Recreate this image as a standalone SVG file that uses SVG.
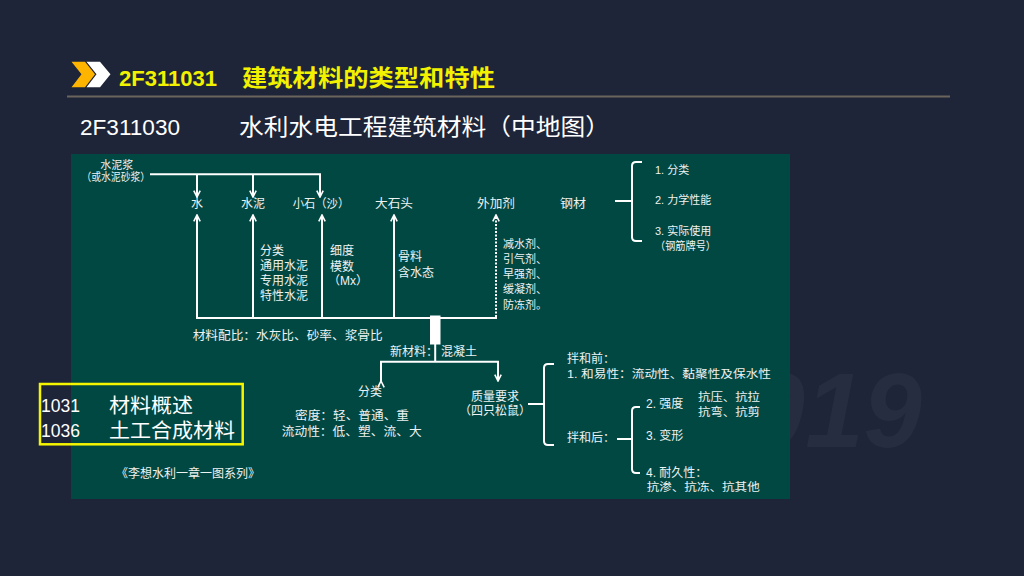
<svg xmlns="http://www.w3.org/2000/svg" width="1024" height="576" viewBox="0 0 1024 576">
<defs>
<style>
.t{font-family:"Liberation Sans","Noto Sans CJK SC",sans-serif;font-size:12px;fill:#eef3f2}
.s{font-size:11px}
.ln{stroke:#ffffff;stroke-width:2;fill:none}
.dot{stroke:#ffffff;stroke-width:2;fill:none;stroke-dasharray:2 1.5}
.br{stroke:#ffffff;stroke-width:2;fill:none;stroke-linejoin:round}
.hd{font-family:"Liberation Sans","Noto Sans CJK SC",sans-serif}
</style>
<marker id="ah" viewBox="0 0 10 10" refX="9" refY="5" markerWidth="8" markerHeight="8" markerUnits="userSpaceOnUse" orient="auto">
<path d="M1,1 L9,5 L1,9" stroke="#ffffff" stroke-width="2" fill="none"/>
</marker>
<clipPath id="wm"><rect x="790" y="300" width="234" height="200"/></clipPath>
</defs>
<rect width="1024" height="576" fill="#1e2538"/>
<g clip-path="url(#wm)">
<text x="922" y="447" text-anchor="end" font-family="Liberation Sans, sans-serif" font-style="italic" font-weight="bold" font-size="105" fill="#262d41">2019</text>
</g>

<g id="header">
<polygon points="71.5,61.7 85,61.7 95,74.3 85,87.3 71.5,87.3 81.5,74.3" fill="#ffb400"/>
<polygon points="86.5,61.7 100,61.7 110.5,74.3 100,87.3 86.5,87.3 96.5,74.3" fill="#ffffff"/>
<text class="hd" x="119" y="86" font-size="22" font-weight="bold" fill="#f2f200" textLength="98" lengthAdjust="spacingAndGlyphs">2F311031</text>
<text class="hd" x="242" y="86" font-size="23" font-weight="bold" fill="#f2f200" textLength="253" lengthAdjust="spacingAndGlyphs">建筑材料的类型和特性</text>
<line x1="67" y1="96.5" x2="950" y2="96.5" stroke="#6a655c" stroke-width="2"/>
<text class="hd" x="80" y="134.5" font-size="22" fill="#ffffff" textLength="100" lengthAdjust="spacingAndGlyphs">2F311030</text>
<text class="hd" x="239" y="134.5" font-size="23" fill="#ffffff" textLength="371" lengthAdjust="spacingAndGlyphs">水利水电工程建筑材料（中地图）</text>
</g>

<rect id="panel" x="71" y="154" width="719" height="345" fill="#014843"/>

<g id="connectors">
<polyline class="ln" points="150,174.3 320,174.3 320,197" marker-end="url(#ah)"/>
<line class="ln" x1="197" y1="174.3" x2="197" y2="197" marker-end="url(#ah)"/>
<line class="ln" x1="253" y1="174.3" x2="253" y2="197" marker-end="url(#ah)"/>
<line class="ln" x1="196" y1="318" x2="497" y2="318"/>
<line class="ln" x1="197" y1="318" x2="197" y2="215" marker-end="url(#ah)"/>
<line class="ln" x1="253" y1="318" x2="253" y2="215" marker-end="url(#ah)"/>
<line class="ln" x1="322" y1="318" x2="322" y2="215" marker-end="url(#ah)"/>
<line class="ln" x1="394" y1="318" x2="394" y2="215" marker-end="url(#ah)"/>
<line class="dot" x1="496" y1="317" x2="496" y2="215" marker-end="url(#ah)"/>
<rect x="430" y="315.5" width="10.5" height="29" fill="#ffffff"/>
<line class="ln" x1="435.2" y1="344" x2="435.2" y2="361.7"/>
<polyline class="ln" points="381,381 381,361.7 498,361.7 498,381" marker-start="url(#ah)" marker-end="url(#ah)"/>
<line class="ln" x1="615" y1="201" x2="632" y2="201"/>
<path class="br" d="M642,162 L636,162 Q632,162 632,166 L632,237 Q632,241 636,241 L642,241"/>
<line class="ln" x1="528" y1="404" x2="544" y2="404"/>
<path class="br" d="M554,364 L548,364 Q544,364 544,368 L544,441 Q544,445 548,445 L554,445"/>
<line class="ln" x1="617" y1="439" x2="632" y2="439"/>
<path class="br" d="M640,407 L636,407 Q632,407 632,411 L632,469 Q632,473 636,473 L640,473"/>
</g>

<g id="n-slurry">
<text class="t s" x="116.7" y="168.5" text-anchor="middle">水泥浆</text>
<text class="t s" x="81.5" y="180.5" textLength="68.5" lengthAdjust="spacingAndGlyphs">（或水泥砂浆）</text>
</g>
<g id="n-water"><text class="t" x="197" y="208" text-anchor="middle">水</text></g>
<g id="n-cement"><text class="t" x="253" y="208" text-anchor="middle">水泥</text></g>
<g id="n-sand"><text class="t" x="292.7" y="208" textLength="56.5" lengthAdjust="spacingAndGlyphs">小石（沙）</text></g>
<g id="n-stone"><text class="t" x="375" y="208" textLength="38" lengthAdjust="spacingAndGlyphs">大石头</text></g>
<g id="n-admix"><text class="t" x="477" y="208" textLength="38" lengthAdjust="spacingAndGlyphs">外加剂</text></g>
<g id="n-steel"><text class="t" x="560" y="208" textLength="26" lengthAdjust="spacingAndGlyphs">钢材</text></g>

<g id="n-cement-notes">
<text class="t" x="260" y="254.5">分类</text>
<text class="t" x="260" y="269.5">通用水泥</text>
<text class="t" x="260" y="284.5">专用水泥</text>
<text class="t" x="260" y="299.5">特性水泥</text>
</g>
<g id="n-sand-notes">
<text class="t" x="330" y="254.5">细度</text>
<text class="t" x="330" y="270.5">模数</text>
<text class="t" x="328" y="285">（Mx）</text>
</g>
<g id="n-stone-notes">
<text class="t" x="398" y="261">骨料</text>
<text class="t" x="398" y="277">含水态</text>
</g>
<g id="n-admix-notes">
<text class="t s" x="503" y="248">减水剂、</text>
<text class="t s" x="503" y="263">引气剂、</text>
<text class="t s" x="503" y="278">早强剂、</text>
<text class="t s" x="503" y="293">缓凝剂、</text>
<text class="t s" x="503" y="308.5">防冻剂。</text>
</g>
<g id="n-steel-notes">
<text class="t s" x="655" y="173.5">1. 分类</text>
<text class="t s" x="655" y="204">2. 力学性能</text>
<text class="t s" x="655" y="234.5">3. 实际使用</text>
<text class="t s" x="655" y="249.5" textLength="61" lengthAdjust="spacingAndGlyphs">（钢筋牌号）</text>
</g>
<g id="n-ratio"><text class="t" x="192.7" y="339.5" textLength="190" lengthAdjust="spacingAndGlyphs">材料配比：水灰比、砂率、浆骨比</text></g>
<g id="n-concrete">
<text class="t" x="390" y="356">新材料：</text>
<text class="t" x="441" y="356">混凝土</text>
</g>
<g id="n-class">
<text class="t" x="370" y="396" text-anchor="middle">分类</text>
<text class="t" x="295" y="419.5" textLength="114" lengthAdjust="spacingAndGlyphs">密度：轻、普通、重</text>
<text class="t" x="281.7" y="436" textLength="140" lengthAdjust="spacingAndGlyphs">流动性：低、塑、流、大</text>
</g>
<g id="n-quality">
<text class="t" x="495" y="400.5" text-anchor="middle">质量要求</text>
<text class="t" x="495" y="414.5" text-anchor="middle">（四只松鼠）</text>
</g>
<g id="n-before">
<text class="t" x="567" y="363">拌和前：</text>
<text class="t s" x="567" y="378" textLength="204" lengthAdjust="spacingAndGlyphs">1. 和易性：流动性、黏聚性及保水性</text>
</g>
<g id="n-after"><text class="t" x="567" y="442">拌和后：</text></g>
<g id="n-strength">
<text class="t" x="646" y="408">2. 强度</text>
<text class="t s" x="698" y="400.5" textLength="62" lengthAdjust="spacingAndGlyphs">抗压、抗拉</text>
<text class="t s" x="698" y="415.5" textLength="62" lengthAdjust="spacingAndGlyphs">抗弯、抗剪</text>
</g>
<g id="n-deform"><text class="t" x="646" y="439.5">3. 变形</text></g>
<g id="n-durable">
<text class="t" x="646" y="476.5">4. 耐久性：</text>
<text class="t s" x="646.7" y="491" textLength="113" lengthAdjust="spacingAndGlyphs">抗渗、抗冻、抗其他</text>
</g>

<g id="n-series"><text class="t" x="116" y="478" textLength="144" lengthAdjust="spacingAndGlyphs">《李想水利一章一图系列》</text></g>

<g id="n-legend">
<rect x="40" y="384" width="202.7" height="60.3" fill="none" stroke="#f5f500" stroke-width="2.5"/>
<text class="hd" x="41" y="412" font-size="18" fill="#ffffff" textLength="39" lengthAdjust="spacingAndGlyphs">1031</text>
<text class="hd" x="109" y="412.5" font-size="20" fill="#ffffff" textLength="84" lengthAdjust="spacingAndGlyphs">材料概述</text>
<text class="hd" x="41" y="437" font-size="18" fill="#ffffff" textLength="39" lengthAdjust="spacingAndGlyphs">1036</text>
<text class="hd" x="109" y="437.5" font-size="20" fill="#ffffff" textLength="126" lengthAdjust="spacingAndGlyphs">土工合成材料</text>
</g>
</svg>
